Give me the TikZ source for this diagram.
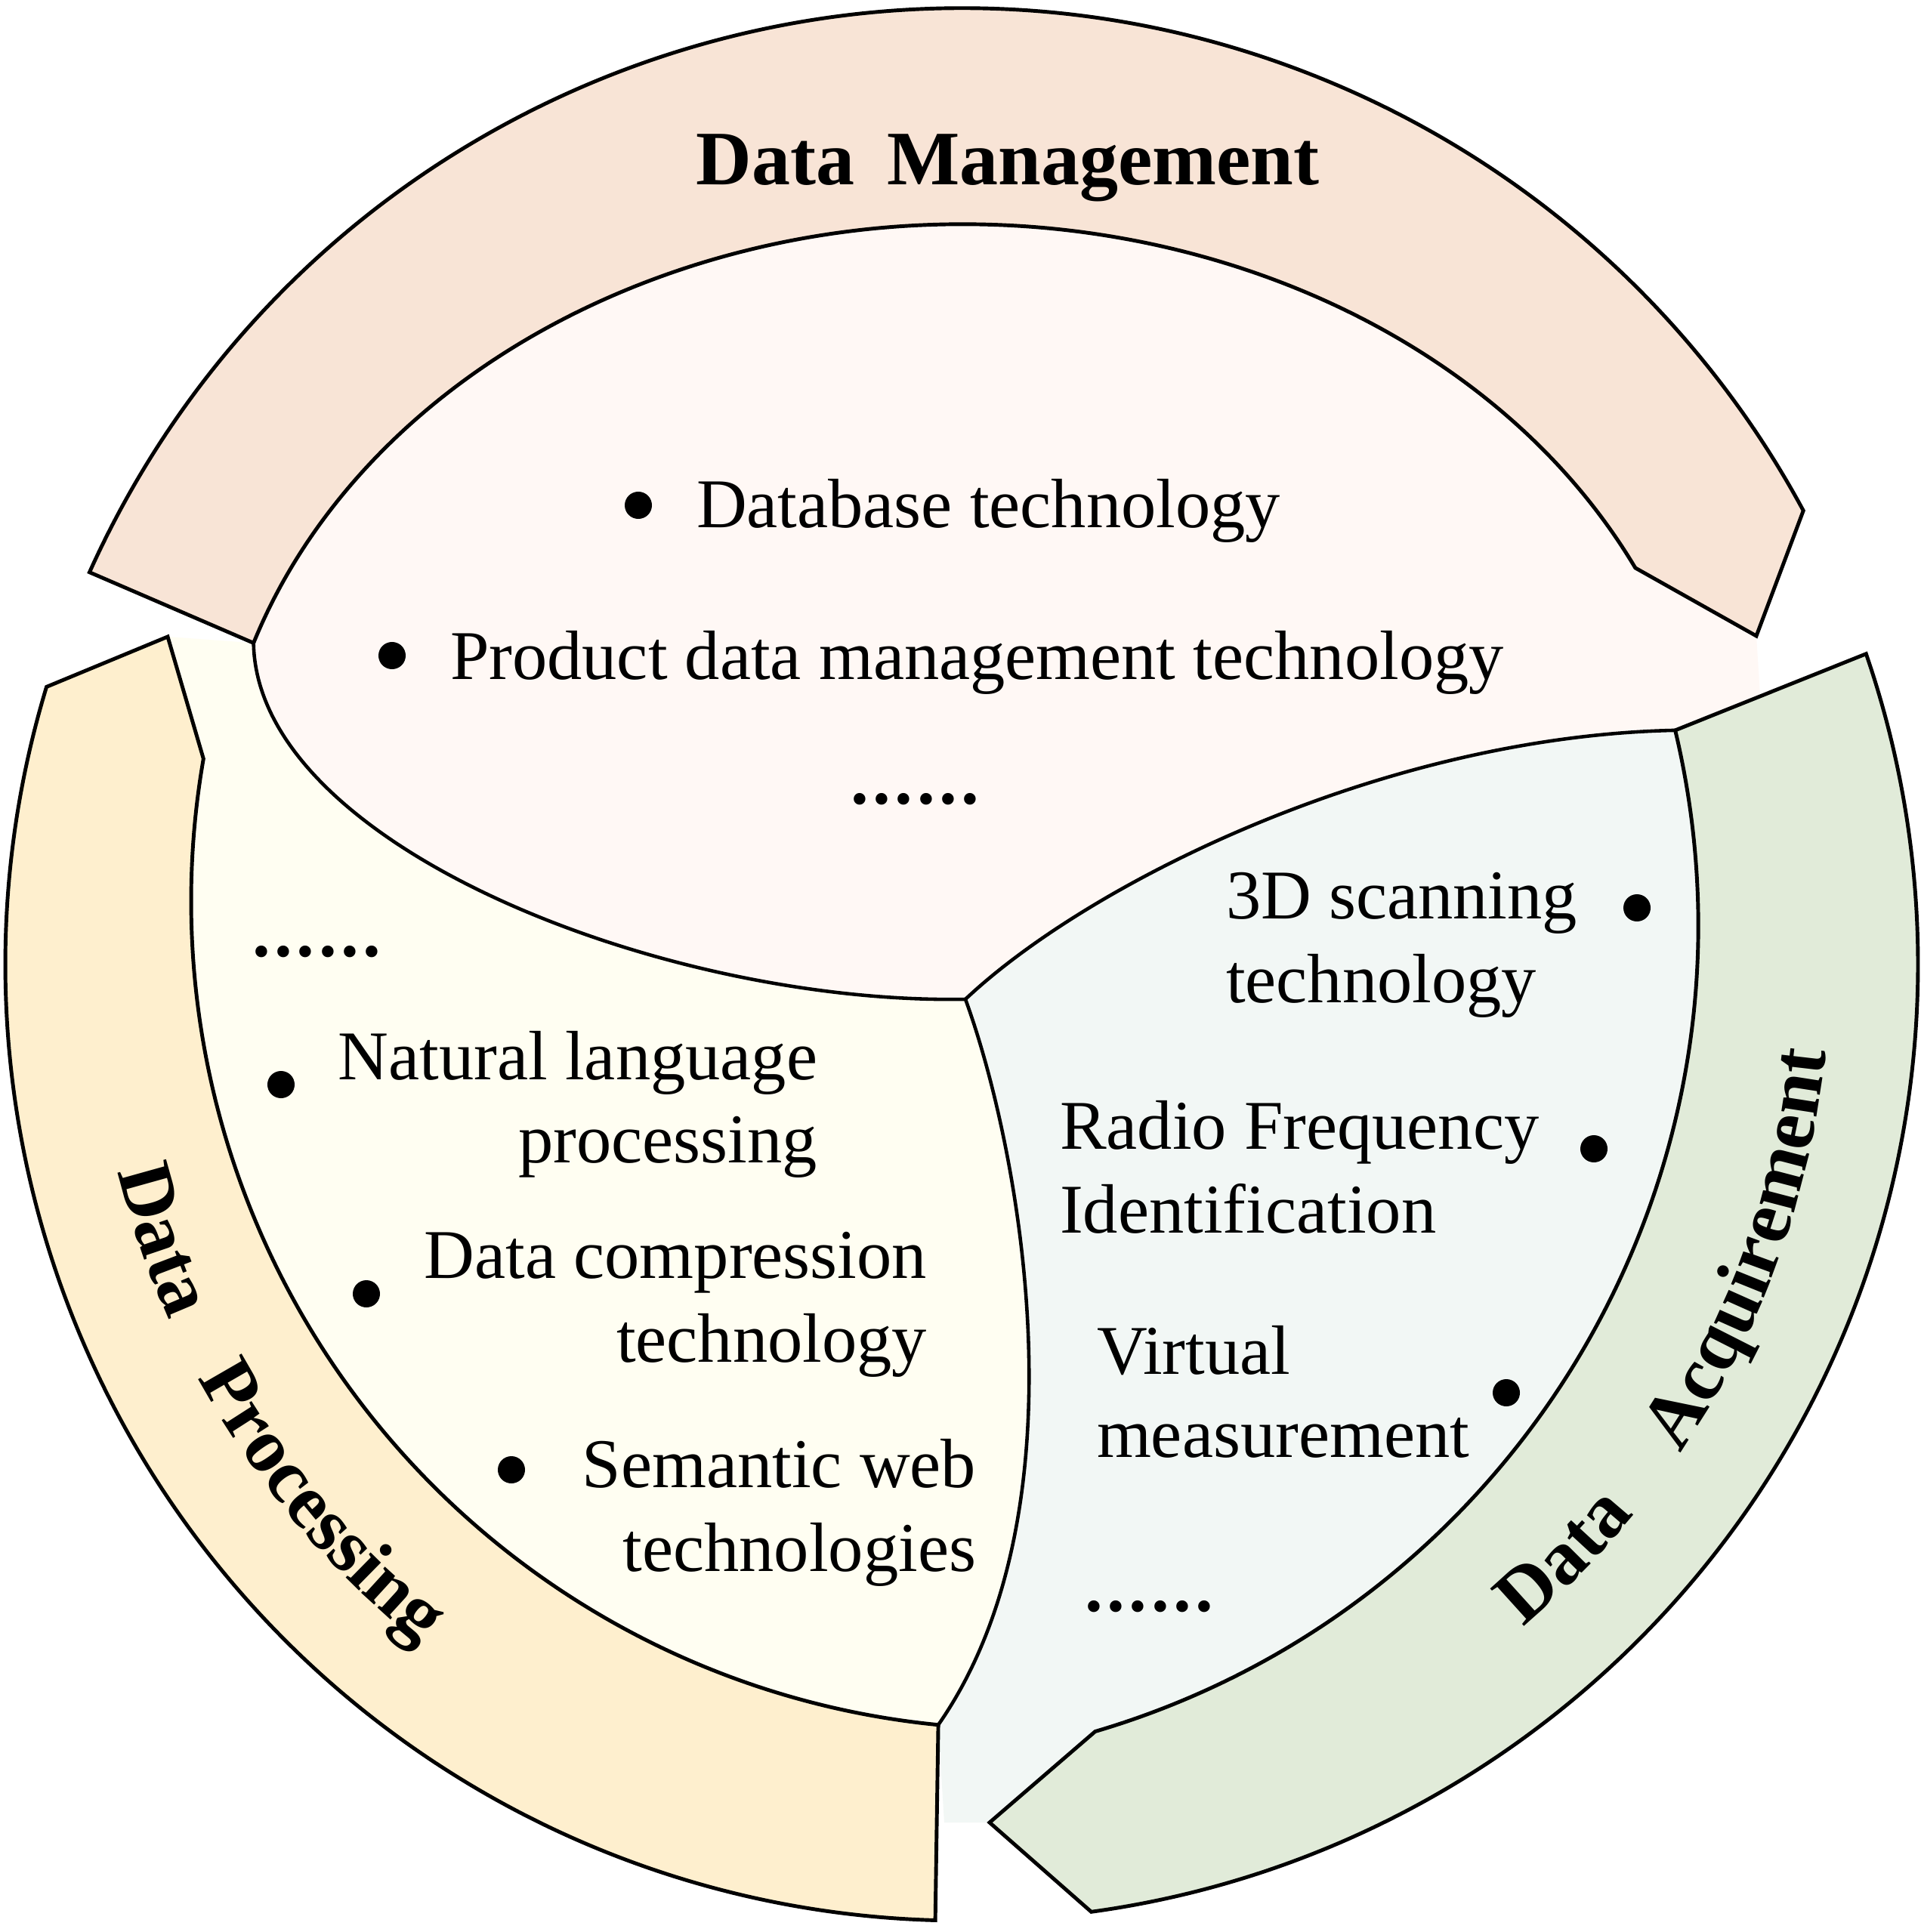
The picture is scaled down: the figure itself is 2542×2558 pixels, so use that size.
\documentclass[tikz,border=0pt]{standalone}
\usepackage{fontspec}
\setmainfont{Liberation Serif}
\usetikzlibrary{calc,decorations.text}
\definecolor{pinkband}{HTML}{F8E4D6}
\definecolor{pinklens}{HTML}{FFF8F5}
\definecolor{yelband}{HTML}{FEEFCE}
\definecolor{yellens}{HTML}{FFFEF2}
\definecolor{grnband}{HTML}{E1EBD9}
\definecolor{bluelens}{HTML}{F2F7F5}
\newcommand\myBody{\fontsize{26.3}{31.5}\selectfont}
\newcommand\myTitle{\fontsize{29}{35}\selectfont\bfseries}
\newcommand\myDots{{\fontsize{27}{30}\selectfont\bfseries .\kern1.6pt.\kern1.6pt.\kern1.6pt.\kern1.6pt.\kern1.6pt.}}
\begin{document}
\begin{tikzpicture}[x=0.01cm,y=0.01cm,
  bandline/.style={draw=black, line width=1.4pt},
  lensline/.style={draw=black, line width=1.3pt},
  txt/.style={inner sep=0pt, outer sep=0pt, font=\myBody},
  bul/.style={circle, fill=black, inner sep=0pt, minimum size=0.36cm},
  dotsnode/.style={inner sep=0pt, outer sep=0pt, anchor=base west}]
\useasboundingbox (0,0) rectangle (2542,-2558);
\fill[white] (0,0) rectangle (2542,-2558);
% key points
\coordinate (C) at (1273,-1277);
\coordinate (E) at (1275,-1107);
\coordinate (Cy) at (1349,-1193);
\coordinate (Cg) at (1135,-1225);
\coordinate (J) at (1278,-1323);
\coordinate (PoL) at ($(C)+(155.78:1266)$);
\coordinate (PTip) at (2325,-842);
\coordinate (PIn) at ($(E)+(26:990 and 810)$);
\coordinate (L1) at ($(E)+(161.6:990 and 810)$);
\coordinate (YoT) at ($(C)+(163.12:1266)$);
\coordinate (YTip) at (222,-843);
\coordinate (YKink) at ($(Cy)+(170.1:1096)$);
\coordinate (YIn) at ($(Cy)+(264.4:1096)$);
\coordinate (GoT) at ($(C)+(18.96:1266)$);
\coordinate (G1) at ($(Cg)+(13.41:1113)$);
\coordinate (GIn) at ($(Cg)+(-73.57:1113)$);
\coordinate (GTip) at (1310,-2413);
\coordinate (PEdge) at (2330,-921);
\coordinate (BEdge) at (1250,-2413);
% lens fills
\fill[pinklens] (L1) arc[start angle=161.6, end angle=26, x radius=990, y radius=810] -- (PTip) -- (PEdge) -- (G1) .. controls (1830,-975) and (1440,-1170) .. (J) .. controls (880,-1330) and (340,-1120) .. (L1) -- cycle;
\fill[yellens] (J) .. controls (880,-1330) and (340,-1120) .. (L1) -- (YTip) -- (YKink)
  arc[start angle=170.1, end angle=264.4, radius=1096]
  .. controls (1440,-2000) and (1350,-1520) .. (J) -- cycle;
\fill[bluelens] (J) .. controls (1440,-1170) and (1830,-975) .. (G1)
  arc[start angle=13.41, end angle=-73.57, radius=1113]
  -- (GTip) -- (BEdge) -- (YIn) .. controls (1440,-2000) and (1350,-1520) .. (J) -- cycle;
% bands
\filldraw[bandline, fill=pinkband] (PoL) arc[start angle=155.78, end angle=28.34, radius=1266] -- (PTip) -- (PIn) arc[start angle=26, end angle=161.6, x radius=990, y radius=810] -- cycle;
\filldraw[bandline, fill=yelband] (YoT) arc[start angle=163.12, end angle=268.42, radius=1266] -- (YIn)
  arc[start angle=264.4, end angle=170.1, radius=1096] -- (YTip) -- cycle;
\filldraw[bandline, fill=grnband] (GoT) arc[start angle=18.96, end angle=-82.21, radius=1266] -- (GTip) -- (GIn)
  arc[start angle=-73.57, end angle=13.41, radius=1113] -- cycle;
% lens boundaries
\draw[lensline] (L1) .. controls (340,-1120) and (880,-1330) .. (J);
\draw[lensline] (J) .. controls (1440,-1170) and (1830,-975) .. (G1);
\draw[lensline] (J) .. controls (1350,-1520) and (1440,-2000) .. (YIn);
% titles
\node[inner sep=0pt, anchor=base, font=\myTitle] (tDM) at (1334,-245) {Data\hspace{0.42em}Management};
\path[decorate, decoration={text along path, text align=center, text={|\myTitle|Data}}] ($(C)+(189:1150)$) arc[start angle=189, end angle=209, radius=1150];
\path[decorate, decoration={text along path, text align=center, text={|\myTitle|Processing}}] ($(C)+(205:1150)$) arc[start angle=205, end angle=235, radius=1150];
\path[decorate, decoration={text along path, text align=center, text={|\myTitle|Data}}] ($(C)+(305.5:1150)$) arc[start angle=305.5, end angle=325.5, radius=1150];
\path[decorate, decoration={text along path, text align=center, text={|\myTitle|Acquirement}}] ($(C)+(325:1150)$) arc[start angle=325, end angle=355, radius=1150];
% bullets
\node[bul] (b1) at (845,-669) {};
\node[bul] (b2) at (519,-868) {};
\node[bul] (b3) at (372,-1436) {};
\node[bul] (b4) at (485,-1713) {};
\node[bul] (b5) at (677,-1946) {};
\node[bul] (b6) at (2167,-1202) {};
\node[bul] (b7) at (2110,-1521) {};
\node[bul] (b8) at (1994,-1844) {};
% management texts
\node[txt, anchor=base west] (t1) at (922,-698) {Database technology};
\node[txt, anchor=base west] (t2) at (596,-899) {Product data management technology};
\node[dotsnode] (d1) at (1126,-1064) {\myDots};
% processing texts
\node[dotsnode] (d2) at (334,-1266) {\myDots};
\node[txt, anchor=base east] (t3a) at (1082,-1429) {Natural language};
\node[txt, anchor=base east] (t3b) at (1082,-1539) {processing};
\node[txt, anchor=base east] (t4a) at (1227,-1692) {Data compression};
\node[txt, anchor=base east] (t4b) at (1227,-1803) {technology};
\node[txt, anchor=base east] (t5a) at (1292,-1969) {Semantic web};
\node[txt, anchor=base east] (t5b) at (1292,-2080) {technologies};
% acquirement texts
\node[txt, anchor=base west] (t6a) at (1623,-1216) {3D scanning};
\node[txt, anchor=base west] (t6b) at (1623,-1327) {technology};
\node[txt, anchor=base west] (t7a) at (1403,-1521) {Radio Frequency};
\node[txt, anchor=base west] (t7b) at (1403,-1632) {Identification};
\node[txt, anchor=base west] (t8a) at (1452,-1819) {Virtual};
\node[txt, anchor=base west] (t8b) at (1452,-1929) {measurement};
\node[dotsnode] (d3) at (1436,-2133) {\myDots};
\end{tikzpicture}
\end{document}
